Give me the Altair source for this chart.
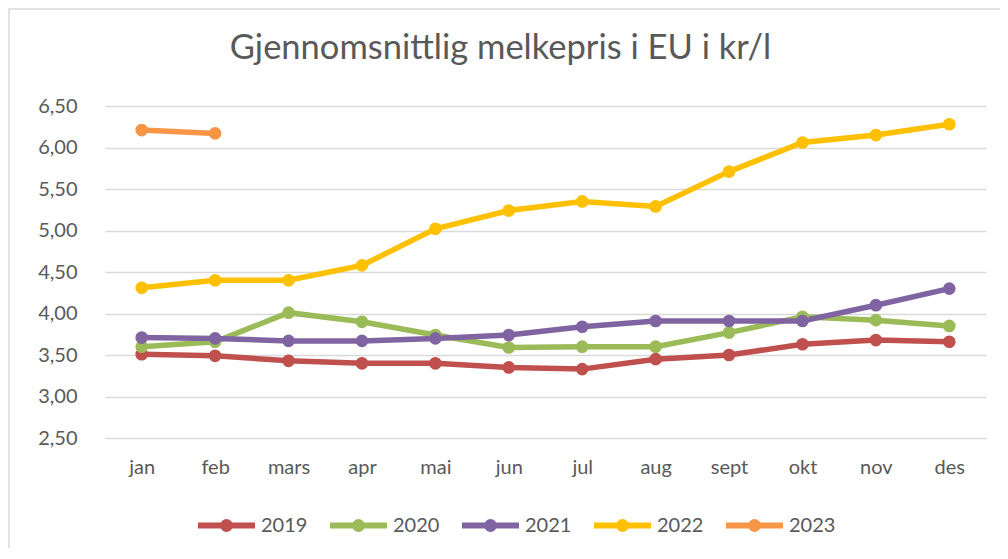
import altair as alt
import pandas as pd

months = ["jan", "feb", "mars", "apr", "mai", "jun", "jul", "aug", "sept", "okt", "nov", "des"]
v2019 = [3.51, 3.49, 3.43, 3.40, 3.40, 3.35, 3.33, 3.45, 3.50, 3.63, 3.68, 3.66]
v2020 = [3.60, 3.66, 4.01, 3.90, 3.74, 3.59, 3.60, 3.60, 3.77, 3.96, 3.92, 3.85]
v2021 = [3.71, 3.70, 3.67, 3.67, 3.70, 3.74, 3.84, 3.91, 3.91, 3.91, 4.10, 4.30]
v2022 = [4.31, 4.40, 4.40, 4.58, 5.02, 5.24, 5.35, 5.29, 5.71, 6.06, 6.15, 6.28]
v2023 = [6.21, 6.17]
years = ["2019", "2020", "2021", "2022", "2023"]
colors = ["#C0504D", "#9BBB59", "#8064A2", "#FFC000", "#F79646"]
title_text = "Gjennomsnittlig melkepris i EU i kr/l"

rows = []
for yr, vals in zip(years, [v2019, v2020, v2021, v2022, v2023]):
    for i, v in enumerate(vals):
        rows.append({"måned": months[i], "år": yr, "pris": v, "ord": years.index(yr)})
df = pd.DataFrame(rows)

W, H = 881, 332
FONT = "Lato"
GRAY = "#595959"

x_enc = alt.X("måned:N", sort=months, scale=alt.Scale(type="point", padding=0.5),
              axis=alt.Axis(title=None, domain=False, ticks=False, grid=False,
                            labelFont=FONT, labelFontSize=20, labelColor=GRAY,
                            labelPadding=19, labelAngle=0))
y_enc = alt.Y("pris:Q", scale=alt.Scale(domain=[2.5, 6.5], nice=False, zero=False),
              axis=alt.Axis(title=None, values=[2.5, 3, 3.5, 4, 4.5, 5, 5.5, 6, 6.5],
                            labelExpr="replace(format(datum.value, '.2f'), '.', ',')",
                            domain=False, ticks=False, grid=True, gridColor="#D9D9D9",
                            gridWidth=1.5, labelFont=FONT, labelFontSize=20,
                            labelColor=GRAY, labelPadding=28))
color_enc = alt.Color("år:N", scale=alt.Scale(domain=years, range=colors),
                      legend=alt.Legend(title=None, orient="none", direction="horizontal",
                                        legendX=90, legendY=388,
                                        symbolType="M-1,0L1,0M-0.12,0A0.12,0.12,0,1,1,0.12,0A0.12,0.12,0,1,1,-0.12,0Z",
                                        symbolSize=3249, symbolStrokeWidth=6,
                                        labelFont=FONT, labelFontSize=20, labelColor=GRAY,
                                        labelOffset=3, columnPadding=10))

border = alt.Chart(pd.DataFrame({"a": [0]})).mark_rect(
    filled=False, stroke="#D9D9D9", strokeWidth=1.5
).encode(x=alt.value(-96), x2=alt.value(W + 40), y=alt.value(-97), y2=alt.value(H + 140))

lines = alt.Chart(df).mark_line(strokeWidth=5.5).encode(
    x=x_enc, y=y_enc, color=color_enc, order="ord:Q", detail="år:N")
points = alt.Chart(df).mark_point(filled=True, size=160, opacity=1).encode(
    x=x_enc, y=y_enc, color=color_enc, order="ord:Q")

chart = alt.layer(border, lines, points).properties(
    width=W, height=H,
    title=alt.TitleParams(title_text, anchor="middle", dx=-45, offset=-85,
                          baseline="alphabetic",
                          font=FONT, fontSize=34.5, fontWeight="normal", color=GRAY),
    autosize=alt.AutoSizeParams(type="none"),
    padding={"left": 97, "top": 98, "right": 14, "bottom": 110},
).configure_view(stroke=None)

chart.save("out.html", embed_options={"renderer": "svg", "actions": False})
